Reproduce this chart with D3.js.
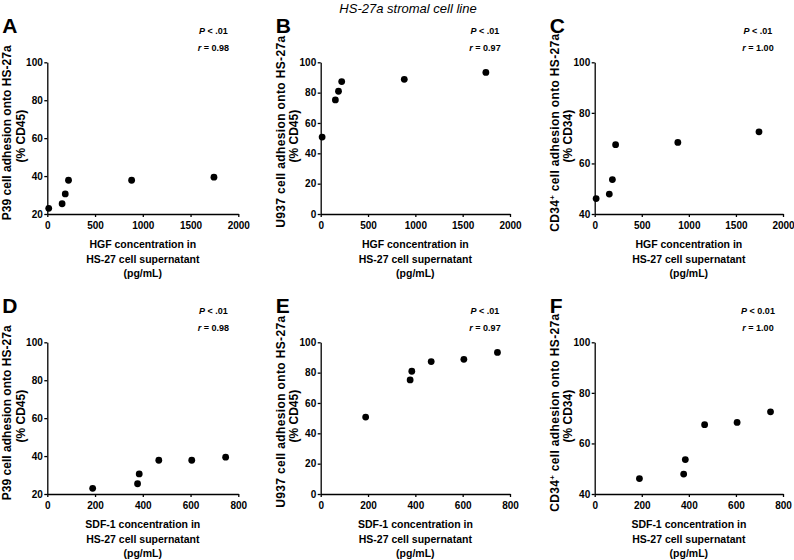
<!DOCTYPE html>
<html lang="en">
<head>
<meta charset="UTF-8">
<title>HS-27a stromal cell line</title>
<style>
  body { margin: 0; background: #fff; }
  svg { display: block; font-family: "Liberation Sans", Arial, sans-serif; }
  .tick text { font-size: 10px; font-weight: bold; }
  .axis path, .axis line { stroke: #000; stroke-width: 1.3; }
</style>
</head>
<body>
<svg id="chart" width="794" height="560"></svg>
<script src="https://cdn.jsdelivr.net/npm/d3@7"></script>
<script>
  // values
  var hgf  = [15, 155, 188, 222, 883, 1745];   // HGF pg/mL
  var sdf1 = [190, 378, 385, 467, 605, 747];   // SDF-1 pg/mL
  var p39  = [23.0, 25.4, 30.6, 37.8, 37.8, 39.4];
  var u937 = [50.7, 75.2, 80.9, 87.3, 88.8, 93.3];
  var cd34 = [46.1, 47.9, 53.6, 67.4, 68.3, 72.5];

  var letters  = ["A", "B", "C", "D", "E", "F"];
  var pLabels  = ["< .01", "< .01", "< .01", "< .01", "< .01", "< 0.01"];
  var rLabels  = ["0.98", "0.97", "1.00", "0.98", "0.97", "1.00"];
  var hgfTicks = [0, 500, 1000, 1500, 2000];
  var sdfTicks = [0, 200, 400, 600, 800];
  var yTicksP39  = [20, 40, 60, 80, 100];
  var yTicksU937 = [0, 20, 40, 60, 80, 100];
  var yTicksCD34 = [40, 60, 80, 100];

  var svg = d3.select("#chart");

  // layout of the 3 x 2 grid
  var colLeft  = [47.3, 320.7, 594.7];
  var colRight = [238.3, 510, 783];
  var rowTop   = [62.3, 342.3];
  var rowBot   = [214, 494];
  // first y-title line: length and centre (from top of plot) per column
  var yLineLen = [175, 192, 198];
  var yLineMid = [70.5, 69.5, 70.5];

  var cells = [
    { x: hgf,  y: p39,  xt: hgfTicks, yt: yTicksP39,  xname: "HGF",   ycell: "P39",  ycd: "CD45" },
    { x: hgf,  y: u937, xt: hgfTicks, yt: yTicksU937, xname: "HGF",   ycell: "U937", ycd: "CD45" },
    { x: hgf,  y: cd34, xt: hgfTicks, yt: yTicksCD34, xname: "HGF",   ycell: "CD34", ycd: "CD34", sup: true },
    { x: sdf1, y: p39,  xt: sdfTicks, yt: yTicksP39,  xname: "SDF-1", ycell: "P39",  ycd: "CD45" },
    { x: sdf1, y: u937, xt: sdfTicks, yt: yTicksU937, xname: "SDF-1", ycell: "U937", ycd: "CD45" },
    { x: sdf1, y: cd34, xt: sdfTicks, yt: yTicksCD34, xname: "SDF-1", ycell: "CD34", ycd: "CD34", sup: true }
  ];

  svg.append("text")
    .attr("x", 408).attr("y", 13)
    .attr("text-anchor", "middle")
    .style("font-size", "13px").style("font-style", "italic")
    .text("HS-27a stromal cell line");

  cells.forEach(function(c, i) {
    var col = i % 3, row = Math.floor(i / 3);
    var L = colLeft[col], R = colRight[col], T = rowTop[row], B = rowBot[row];

    var x = d3.scaleLinear().domain(d3.extent(c.xt)).range([L, R]);
    var y = d3.scaleLinear().domain(d3.extent(c.yt)).range([B, T]);

    var g = svg.append("g");

    g.append("g").attr("class", "axis")
      .attr("transform", "translate(0," + B + ")")
      .call(d3.axisBottom(x).tickValues(c.xt).tickFormat(d3.format("d"))
        .tickSize(3).tickSizeOuter(0).tickPadding(4.5));

    g.append("g").attr("class", "axis")
      .attr("transform", "translate(" + L + ",0)")
      .call(d3.axisLeft(y).tickValues(c.yt).tickFormat(d3.format("d"))
        .tickSize(3).tickSizeOuter(0).tickPadding(1.5));

    g.selectAll("circle.pt")
      .data(c.x.map(function(v, k) { return [v, c.y[k]]; }))
      .join("circle")
      .attr("class", "pt")
      .attr("cx", function(d) { return x(d[0]); })
      .attr("cy", function(d) { return y(d[1]); })
      .attr("r", 3.4)
      .attr("fill", "#000");

    // stats
    var sx = R - 25;
    var pt = g.append("text").attr("x", sx).attr("y", T - 28)
      .attr("text-anchor", "middle")
      .style("font-size", "9px").style("font-weight", "bold");
    pt.append("tspan").style("font-style", "italic").text("P");
    pt.append("tspan").text(" " + pLabels[i]);
    var rt = g.append("text").attr("x", sx).attr("y", T - 11)
      .attr("text-anchor", "middle")
      .style("font-size", "9px").style("font-weight", "bold");
    rt.append("tspan").style("font-style", "italic").text("r");
    rt.append("tspan").text(" = " + rLabels[i]);

    // x title
    var xLines = [c.xname + " concentration in", "HS-27 cell supernatant", "(pg/mL)"];
    g.append("g").selectAll("text")
      .data(xLines)
      .join("text")
      .attr("x", (L + R) / 2)
      .attr("y", function(d, k) { return B + 34 + k * 14.5; })
      .attr("text-anchor", "middle")
      .style("font-size", "10.5px").style("font-weight", "bold")
      .text(function(d) { return d; });

    // y title, two rotated lines
    var yt = g.append("g")
      .attr("transform", "translate(" + (L - 36) + "," + T + ") rotate(-90)")
      .style("font-size", "12px").style("font-weight", "bold");
    var l1 = yt.append("text")
      .attr("x", -(yLineMid[col] + yLineLen[col] / 2)).attr("y", 0)
      .attr("textLength", yLineLen[col]).attr("lengthAdjust", "spacing");
    l1.append("tspan").text(c.ycell);
    if (c.sup) {
      l1.append("tspan").attr("baseline-shift", "super").style("font-size", "8px").text("+");
    }
    l1.append("tspan").text(" cell adhesion onto HS-27a");
    yt.append("text").attr("x", -((T + B) / 2 - 2 - T)).attr("y", 13.5)
      .attr("text-anchor", "middle")
      .text("(% " + c.ycd + ")");

    // panel letter
    g.append("text")
      .attr("x", L - 45).attr("y", T - 29)
      .style("font-size", "21px").style("font-weight", "bold")
      .text(letters[i]);
  });
</script>
</body>
</html>
